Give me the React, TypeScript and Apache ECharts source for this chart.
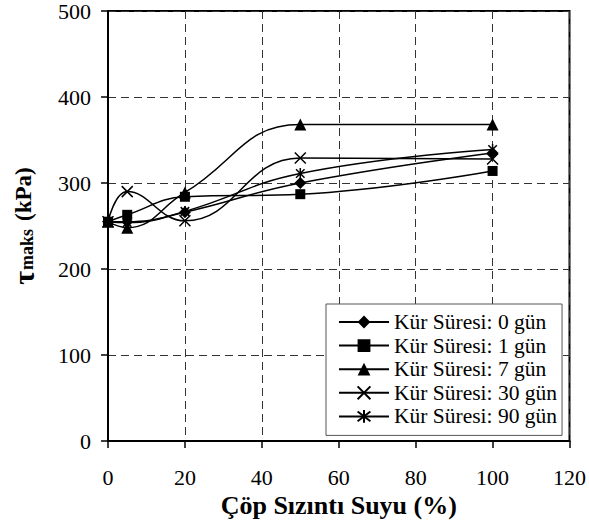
import React, { useEffect, useRef } from "react";
import * as echarts from "echarts";

const xValues = [0, 5, 20, 50, 100];
const seriesNames = [
  "Kür Süresi: 0 gün",
  "Kür Süresi: 1 gün",
  "Kür Süresi: 7 gün",
  "Kür Süresi: 30 gün",
  "Kür Süresi: 90 gün",
];
const day0 = [255, 255, 266, 300, 335];
const day1 = [255, 263, 284, 287, 314];
const day7 = [255, 248, 289, 368, 368];
const day30 = [255, 290, 256, 329, 328];
const day90 = [255, 254, 267, 311, 339];
const xTicks = [0, 20, 40, 60, 80, 100, 120];
const yTicks = [0, 100, 200, 300, 400, 500];

const FONT = "Liberation Serif";

export default function App() {
  const ref = useRef<HTMLDivElement>(null);
  useEffect(() => {
    document.body.style.margin = "0";
    if (!ref.current) return;
    const chart = echarts.init(ref.current, null, { renderer: "svg" });
    const symbols = [
      { symbol: "diamond", size: 12, stroke: false },
      { symbol: "rect", size: 10, stroke: false },
      { symbol: "triangle", size: 12, stroke: false },
      { symbol: "path://M0 0L10 10M10 0L0 10", size: 11, stroke: true },
      { symbol: "path://M0 0L10 10M10 0L0 10M5 -1.5L5 11.5", size: 11, stroke: true },
    ];
    const datasets = [day0, day1, day7, day30, day90];
    const series = datasets.map((vals, i) => ({
      name: seriesNames[i],
      type: "line",
      smooth: 0.45,
      data: vals.map((v, j) => [xValues[j], v]),
      symbol: symbols[i].symbol,
      symbolSize: symbols[i].size,
      symbolKeepAspect: true,
      showSymbol: true,
      lineStyle: { color: "#000", width: 1.5 },
      itemStyle: symbols[i].stroke
        ? { color: "#000", borderColor: "#000", borderWidth: 1.5 }
        : { color: "#000", borderWidth: 0 },
      emphasis: { disabled: true },
      z: 3,
    }));
    chart.setOption({
      animation: false,
      backgroundColor: "#fff",
      textStyle: { fontFamily: FONT, color: "#000" },
      grid: {
        left: 106,
        top: 10,
        right: 19,
        bottom: 84,
        show: true,
        borderColor: "#000",
        borderWidth: 2,
        backgroundColor: "transparent",
      },
      xAxis: {
        type: "value",
        min: xTicks[0],
        max: xTicks[xTicks.length - 1],
        interval: 20,
        name: "Çöp Sızıntı Suyu (%)",
        nameLocation: "middle",
        nameGap: 48,
        nameTextStyle: { fontFamily: FONT, fontSize: 26, fontWeight: "bold", color: "#000" },
        axisLine: { show: true, lineStyle: { color: "#000", width: 2 } },
        axisTick: { show: true, length: 7, lineStyle: { color: "#000", width: 1.5 } },
        axisLabel: { fontFamily: FONT, fontSize: 22, color: "#000", margin: 25 },
        splitLine: { show: true, lineStyle: { color: "#333", width: 1, type: [8, 5] } },
      },
      yAxis: {
        type: "value",
        min: yTicks[0],
        max: yTicks[yTicks.length - 1],
        interval: 100,
        name: "{t|τ}{s|maks}{n|(kPa)}",
        nameLocation: "middle",
        nameGap: 70,
        nameRotate: 90,
        nameTextStyle: {
          fontFamily: FONT,
          color: "#000",
          rich: {
            t: { fontFamily: FONT, fontSize: 30, fontWeight: "bold", color: "#000" },
            s: { fontFamily: FONT, fontSize: 18, fontWeight: "bold", color: "#000", padding: [8, 8, 0, 1] },
            n: { fontFamily: FONT, fontSize: 23, fontWeight: "bold", color: "#000" },
          },
        },
        axisLine: { show: true, lineStyle: { color: "#000", width: 2 } },
        axisTick: { show: true, length: 7, lineStyle: { color: "#000", width: 1.5 } },
        axisLabel: { fontFamily: FONT, fontSize: 22, color: "#000", margin: 17 },
        splitLine: { show: true, lineStyle: { color: "#333", width: 1, type: [8, 5] } },
      },
      legend: {
        orient: "vertical",
        left: 326,
        top: 304,
        padding: [7, 5, 8, 12],
        backgroundColor: "#fff",
        borderColor: "#555",
        borderWidth: 1,
        itemWidth: 50,
        itemHeight: 16,
        itemGap: 1.6,
        textStyle: { fontFamily: FONT, fontSize: 21.5, color: "#000", lineHeight: 22 },
        data: seriesNames,
      },
      series,
    });
    return () => chart.dispose();
  }, []);
  return <div ref={ref} style={{ width: 589, height: 525 }} />;
}
